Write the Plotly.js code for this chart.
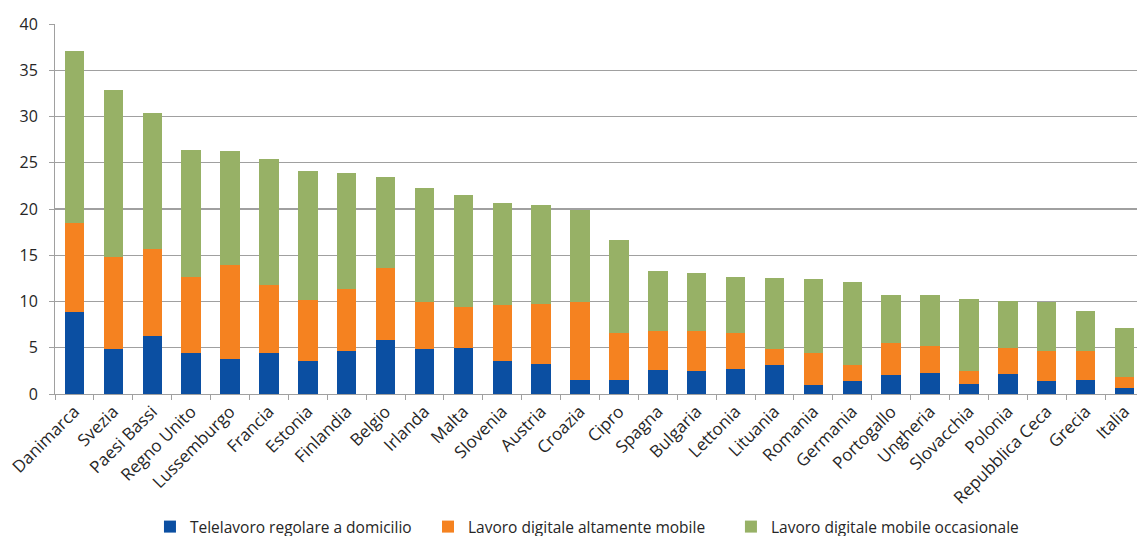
<!DOCTYPE html>
<html>
<head>
<meta charset="utf-8">
<script src="https://cdn.plot.ly/plotly-3.0.1.min.js"></script>
<style>
  html, body { margin: 0; padding: 0; background: #fff; overflow: hidden; }
  #chart { width: 1150px; height: 570px; }
</style>
</head>
<body>
<div id="chart"></div>
<script>
// Paesi (ordinati per quota totale)
const paesi = ["Danimarca", "Svezia", "Paesi Bassi", "Regno Unito", "Lussemburgo", "Francia",
  "Estonia", "Finlandia", "Belgio", "Irlanda", "Malta", "Slovenia", "Austria", "Croazia",
  "Cipro", "Spagna", "Bulgaria", "Lettonia", "Lituania", "Romania", "Germania", "Portogallo",
  "Ungheria", "Slovacchia", "Polonia", "Repubblica Ceca", "Grecia", "Italia"];

// Telelavoro regolare a domicilio
const telelavoro = [8.9, 4.9, 6.3, 4.4, 3.8, 4.4, 3.6, 4.7, 5.8, 4.9, 5.0, 3.6, 3.2, 1.5,
  1.5, 2.6, 2.5, 2.7, 3.1, 1.0, 1.4, 2.1, 2.3, 1.1, 2.2, 1.4, 1.5, 0.6];

// Lavoro digitale altamente mobile
const altamenteMobile = [9.6, 9.9, 9.4, 8.3, 10.2, 7.4, 6.6, 6.7, 7.8, 5.1, 4.4, 6.0, 6.5, 8.4,
  5.1, 4.2, 4.3, 3.9, 1.8, 3.4, 1.7, 3.4, 2.9, 1.4, 2.8, 3.3, 3.1, 1.2];

// Lavoro digitale mobile occasionale
const occasionale = [18.6, 18.1, 14.7, 13.7, 12.3, 13.6, 13.9, 12.5, 9.9, 12.3, 12.1, 11.0, 10.7, 10.0,
  10.1, 6.5, 6.3, 6.0, 7.6, 8.0, 9.0, 5.2, 5.5, 7.8, 5.1, 5.3, 4.4, 5.3];

const yTicks = [0, 5, 10, 15, 20, 25, 30, 35, 40];

const fontFamily = '"Open Sans", "Noto Sans", sans-serif';
const textColor = "#262626";
const axisGray = "#a0a0a0";

// one legend box per series so each entry sits at its own place along the bottom
const series = [
  { name: "Telelavoro regolare a domicilio", y: telelavoro, color: "#0b4fa2", legend: "legend" },
  { name: "Lavoro digitale altamente mobile", y: altamenteMobile, color: "#f58220", legend: "legend2" },
  { name: "Lavoro digitale mobile occasionale", y: occasionale, color: "#97b166", legend: "legend3" }
];

const traces = series.map(s => ({
  type: "bar",
  name: s.name,
  x: paesi,
  y: s.y,
  legend: s.legend,
  marker: { color: s.color, line: { width: 0 } },
  hoverinfo: "x+y+name"
}));

function legendBox(x) {
  return {
    orientation: "h",
    x: x, xanchor: "left",
    y: -0.3595, yanchor: "middle",
    bgcolor: "rgba(0,0,0,0)",
    font: { family: fontFamily, size: 15.5, color: textColor },
    itemwidth: 30
  };
}

const layout = {
  width: 1150,
  height: 570,
  barmode: "stack",
  bargap: 0.5,
  paper_bgcolor: "#ffffff",
  plot_bgcolor: "#ffffff",
  font: { family: fontFamily, size: 16, color: textColor },
  margin: { l: 55, r: 6, t: 24, b: 176 },
  showlegend: true,
  legend: legendBox(0.0872),
  legend2: legendBox(0.3425),
  legend3: legendBox(0.6207),
  xaxis: {
    type: "category",
    automargin: false,
    tickangle: -45,
    ticks: "outside",
    tickson: "boundaries",
    ticklen: 5,
    tickcolor: axisGray,
    showline: true,
    linecolor: axisGray,
    linewidth: 1,
    showgrid: false,
    tickfont: { family: fontFamily, size: 17, color: textColor }
  },
  yaxis: {
    range: [0, 40],
    automargin: false,
    tickvals: yTicks,
    ticks: "outside",
    ticklen: 5,
    tickcolor: axisGray,
    ticklabelstandoff: 8,
    showline: true,
    linecolor: axisGray,
    linewidth: 1,
    showgrid: true,
    gridcolor: axisGray,
    gridwidth: 1.2,
    zeroline: false,
    tickfont: { family: fontFamily, size: 16, color: textColor }
  }
};

Plotly.newPlot("chart", traces, layout, { displayModeBar: false, staticPlot: true });
</script>
</body>
</html>
